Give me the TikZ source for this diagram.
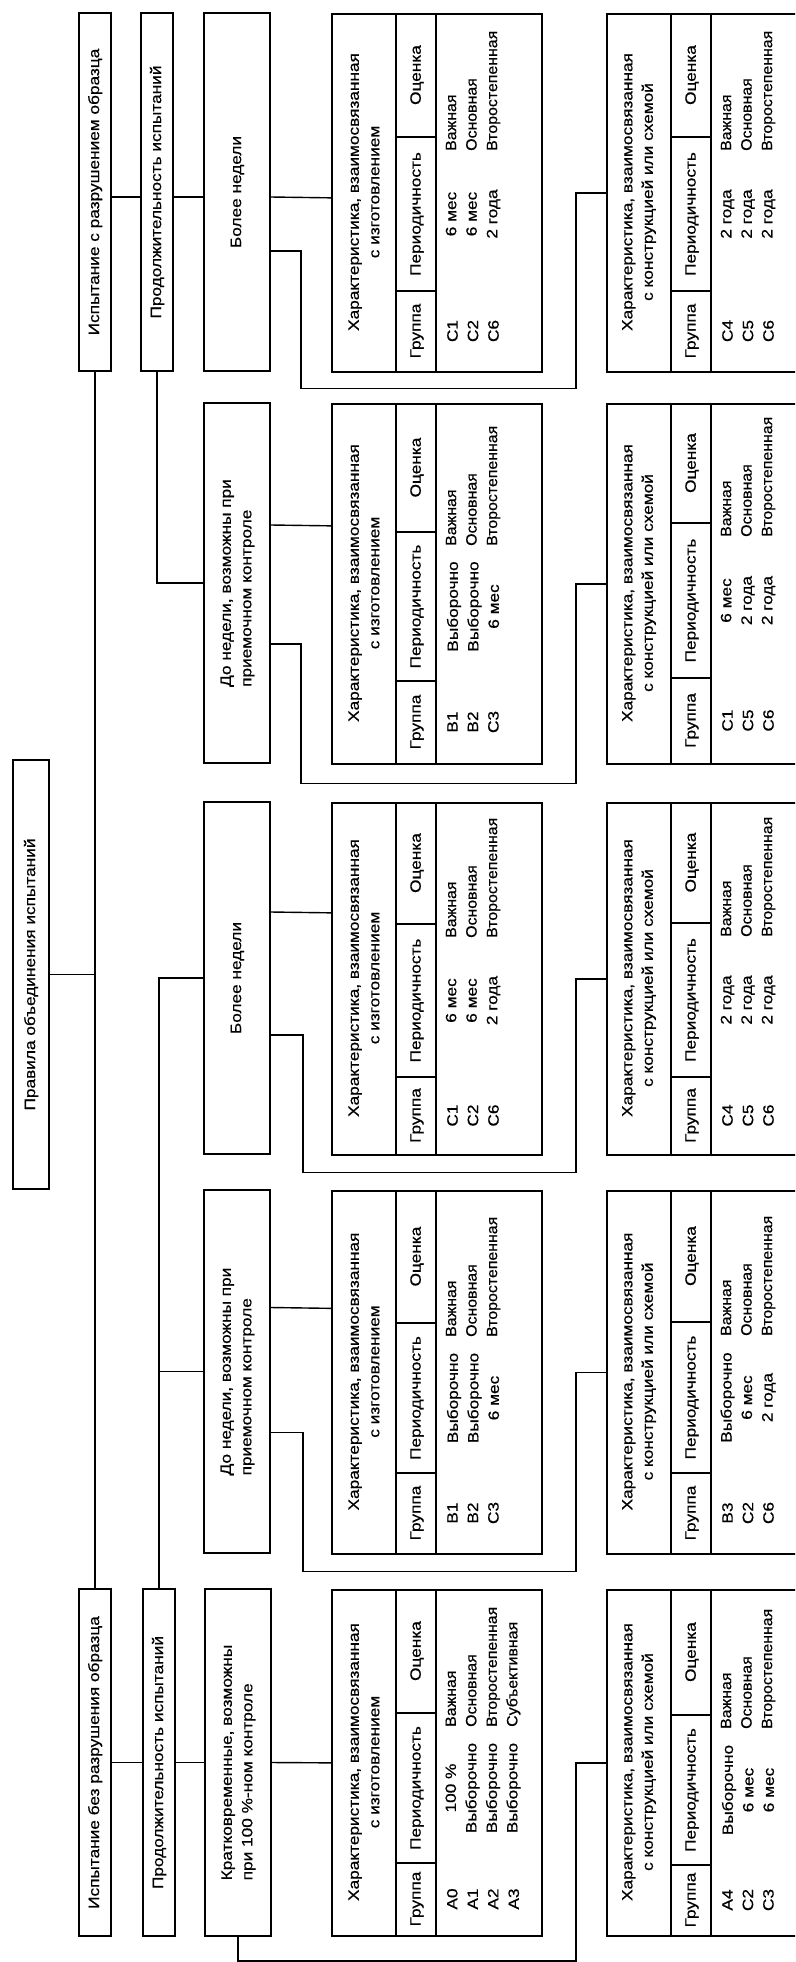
\documentclass[tikz,border=0pt]{standalone}
\usepackage{fontspec}
\usepackage{graphicx}
\setmainfont{Liberation Sans}[FakeStretch=1.15, FakeBold=0.6]
\newfontfamily\rfont{Liberation Sans}[FakeStretch=1.06, FakeBold=0.6]
\usetikzlibrary{calc}
\newcommand\fs{\fontsize{15}{20.5}\selectfont}
\newcommand\rt[2][c]{\rotatebox{90}{\begin{tabular}{@{}#1@{}}#2\end{tabular}}}
\newcommand\ratings{Важная\\Основная\\Второстепенная}
\newcommand\tabw{210}
\newcommand\dx{142}
\tikzset{
  box/.style={draw, line width=1.7pt, inner sep=0pt, rectangle},
  conn/.style={line width=1.4pt},
  rule/.style={line width=1.5pt},
  rtxt/.style={rotate=90, inner sep=0pt},
}
% #1 name #2 left #3 top #4 bottom #5 split1 #6 split2 #7 header line 2 #8 groups #9 periods
\newcommand\mytab[9]{%
  \node[box, anchor=north west, minimum width=\tabw, minimum height={(#4)-(#3)}] (#1) at (#2,#3) {};
  \draw[rule] ({#2+65},#3) -- ({#2+65},#4);
  \draw[rule] ({#2+105},#3) -- ({#2+105},#4);
  \draw[rule] ({#2+65},#5) -- ({#2+105},#5);
  \draw[rule] ({#2+65},#6) -- ({#2+105},#6);
  \node[rtxt, align=center] at ({#2+33},{(#3+#4)/2}) {Характеристика, взаимосвязанная\\#7};
  \node[rtxt] at ({#2+86},{(#3+#5)/2}) {Оценка};
  \node[rtxt] at ({#2+86},{(#5+#6)/2}) {Периодичность};
  \node[rtxt] at ({#2+86},{(#6+#4)/2}) {Группа};
  \node[rtxt, align=center] at ({#2+\dx},{(#6+#4)/2}) {#8};
  \node[rtxt, align=center] at ({#2+\dx},{(#5+#6)/2}) {#9};
  \node[rtxt, align=left, anchor=west, font=\fs\rfont] at ({#2+\dx},{#5+14}) {\ratings};
}
\begin{document}
\begin{tikzpicture}[x=1pt, y=-1pt, every node/.style={font=\fs}]
\useasboundingbox (0,0) rectangle (795,1962);
\clip (0,0) rectangle (795,1962);

% boxes
\node[box, minimum width=36, minimum height=429] (root) at (31,974.5) {\rt{Правила объединения испытаний}};
\node[box, minimum width=32, minimum height=358] (L1a) at (95,192) {\rt{Испытание с разрушением образца}};
\node[box, minimum width=32, minimum height=358] (L2a) at (157,192) {\rt{Продолжительность испытаний}};
\node[box, minimum width=66, minimum height=358] (B1) at (237,192) {\rt{Более недели}};
\node[box, minimum width=66, minimum height=360] (D1) at (237,583) {\rt[l]{До недели, возможны при\\приемочном контроле}};
\node[box, minimum width=66, minimum height=352] (B2) at (237,978) {\rt{Более недели}};
\node[box, minimum width=66, minimum height=363] (D2) at (237,1371.5) {\rt[l]{До недели, возможны при\\приемочном контроле}};
\node[box, minimum width=32, minimum height=347] (L1b) at (95,1762.5) {\rt{Испытание без разрушения образца}};
\node[box, minimum width=32, minimum height=347] (L2b) at (159,1762.5) {\rt{Продолжительность испытаний}};
\node[box, minimum width=66, minimum height=347] (K) at (238,1762.5) {\rt[l]{Кратковременные, возможны\\при 100~\%-ном контроле}};

% tables, left column
\mytab{T1}{331}{13}{371}{137}{291}{с изготовлением}{C1\\C2\\C6}{6 мес\\6 мес\\2 года}
\mytab{T3}{331}{403}{763}{532}{681}{с изготовлением}{B1\\B2\\C3}{Выборочно\\Выборочно\\6 мес}
\mytab{T5}{331}{802}{1154}{924}{1077}{с изготовлением}{C1\\C2\\C6}{6 мес\\6 мес\\2 года}
\mytab{T7}{331}{1190}{1553}{1323}{1473}{с изготовлением}{B1\\B2\\C3}{Выборочно\\Выборочно\\6 мес}
\begin{scope}
\renewcommand\ratings{Важная\\Основная\\Второстепенная\\Субъективная}
\renewcommand\dx{152}
\mytab{T9}{331}{1589}{1935}{1713}{1863}{с изготовлением}{A0\\A1\\A2\\A3}{100~\%\\Выборочно\\Выборочно\\Выборочно}
\end{scope}

% tables, right column
\renewcommand\tabw{204}
\mytab{T2}{606}{13}{371}{137}{291}{с конструкцией или схемой}{C4\\C5\\C6}{2 года\\2 года\\2 года}
\mytab{T4}{606}{403}{763}{523}{678}{с конструкцией или схемой}{C1\\C5\\C6}{6 мес\\2 года\\2 года}
\mytab{T6}{606}{802}{1154}{923}{1077}{с конструкцией или схемой}{C4\\C5\\C6}{2 года\\2 года\\2 года}
\mytab{T8}{606}{1190}{1553}{1322}{1473}{с конструкцией или схемой}{B3\\C2\\C6}{Выборочно\\6 мес\\2 года}
\mytab{T10}{606}{1589}{1935}{1715}{1865}{с конструкцией или схемой}{A4\\C2\\C3}{Выборочно\\6 мес\\6 мес}

% connectors
\draw[conn] (L1a.south) -- (L1b.north);
\draw[conn] (root.east) -- (root.east -| L1a.south);
\draw[conn] ($(L1a.east)+(0,5)$) -- ($(L2a.west)+(0,5)$);
\draw[conn] ($(L2a.east)+(0,5)$) -- ($(B1.west)+(0,5)$);
\draw[conn] ($(B1.east)+(0,5)$) -- ($(T1.west)+(0,5)$);
\draw[conn] (L2a.south) |- (D1.west);
\draw[conn] (L2b.north) |- (B2.west);
\draw[conn] (L2b.north |- D2.west) -- (D2.west);
\draw[conn] ($(D1.east)+(0,-58)$) -- ($(T3.west)+(0,-58)$);
\draw[conn] ($(B2.east)+(0,-66)$) -- ($(T5.west)+(0,-66)$);
\draw[conn] ($(D2.east)+(0,-64)$) -- ($(T7.west)+(0,-64)$);
\draw[conn] (L1b.east) -- (L2b.west);
\draw[conn] (L2b.east) -- (K.west);
\draw[conn] (K.east) -- (T9.west);

% elbows to right column tables
\draw[conn] ($(B1.east)+(0,59)$) -- ++(30,0) |- ($(T2.west |- T1.south)+(-30,16)$) |- (T2.west);
\draw[conn] ($(D1.east)+(0,61)$) -- ++(30,0) |- ($(T4.west |- T3.south)+(-30,19)$) |- (T4.west);
\draw[conn] ($(B2.east)+(0,57)$) -- ++(32,0) |- ($(T6.west |- T5.south)+(-30,17)$) |- (T6.west);
\draw[conn] ($(D2.east)+(0,61)$) -- ++(32,0) |- ($(T8.west |- T7.south)+(-30,17)$) |- (T8.west);
\draw[conn] (K.south) -- ++(0,24) -| ($(T10.west)+(-30,0)$) -- (T10.west);
\end{tikzpicture}
\end{document}
